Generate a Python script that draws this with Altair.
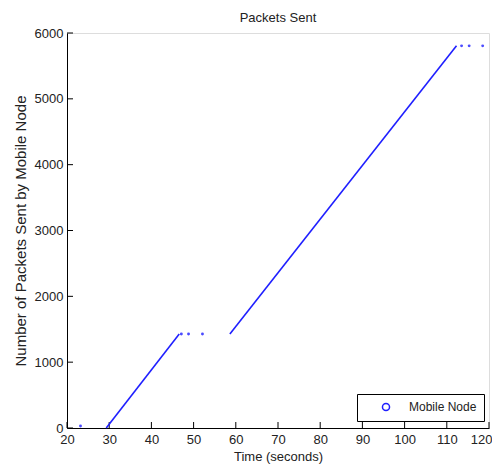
import altair as alt
import pandas as pd

# ---- data ----
seg1_time = [29.3, 46.6]
seg1_pkts = [0, 1428]
seg2_time = [58.6, 112.3]
seg2_pkts = [1428, 5805]
dot_time = [23.2, 47.1, 48.8, 52.1, 113.5, 115.3, 118.5]
dot_pkts = [30, 1428, 1428, 1428, 5805, 5805, 5805]
x_ticks = [20, 30, 40, 50, 60, 70, 80, 90, 100, 110, 120]
y_ticks = [0, 1000, 2000, 3000, 4000, 5000, 6000]
series_name = "Mobile Node"

W, H = 422, 395
BLUE = "#1f1fff"
FONT = "Liberation Sans, Arial, sans-serif"
TXT = "#222222"

line_df = pd.DataFrame({
    "time": seg1_time + seg2_time,
    "pkts": seg1_pkts + seg2_pkts,
    "seg": ["a"] * len(seg1_time) + ["b"] * len(seg2_time),
})
dot_df = pd.DataFrame({"time": dot_time, "pkts": dot_pkts, "series": [series_name] * len(dot_time)})
xt_df = pd.DataFrame({"t": x_ticks})
yt_df = pd.DataFrame({"v": y_ticks})

xscale = alt.Scale(domain=[20, 120], nice=False, zero=False)
yscale = alt.Scale(domain=[0, 6000], nice=False)

last_x = x_ticks[-1]
xaxis = alt.Axis(values=x_ticks, format="d", title="Time (seconds)", grid=False, ticks=False,
                 labelFlush=False, labelOverlap=False, labelPadding=5,
                 labelAlign={"condition": {"test": f"datum.value == {last_x}", "value": "right"},
                             "value": "center"},
                 labelOffset={"condition": {"test": f"datum.value == {last_x}", "value": 3},
                              "value": 0},
                 domainColor="#000000", domainWidth=1,
                 labelFont=FONT, labelFontSize=13, labelColor=TXT,
                 titleFont=FONT, titleFontSize=13, titleFontWeight="normal",
                 titleColor=TXT, titlePadding=4)
yaxis = alt.Axis(values=y_ticks, format="d", title="Number of Packets Sent by Mobile Node",
                 grid=False, ticks=False, labelFlush=False, labelOverlap=False,
                 labelPadding=4, domainColor="#000000", domainWidth=1,
                 labelFont=FONT, labelFontSize=13, labelColor=TXT,
                 titleFont=FONT, titleFontSize=15, titleFontWeight="normal",
                 titleColor=TXT, titlePadding=6)

lines = alt.Chart(line_df).mark_line(color=BLUE, strokeWidth=1.6).encode(
    x=alt.X("time:Q", scale=xscale, axis=xaxis),
    y=alt.Y("pkts:Q", scale=yscale, axis=yaxis),
    detail="seg:N",
)

dots = alt.Chart(dot_df).mark_point(filled=False, size=2, shape="circle", strokeWidth=1.5,
                                    opacity=0.8).encode(
    x=alt.X("time:Q", scale=xscale),
    y=alt.Y("pkts:Q", scale=yscale),
    color=alt.Color("series:N", scale=alt.Scale(range=[BLUE]),
                    legend=alt.Legend(title=None, orient="none", legendX=290, legendY=361,
                                      symbolType="circle", symbolSize=50,
                                      symbolFillColor="transparent", symbolStrokeColor=BLUE,
                                      symbolStrokeWidth=1.5, symbolOpacity=1,
                                      symbolOffset=16, labelOffset=17, labelFont=FONT,
                                      labelFontSize=12, labelColor=TXT, padding=7,
                                      strokeColor="#000000", fillColor="#ffffff")),
)

xt = alt.Chart(xt_df).mark_rule(color="#000000", strokeWidth=1).encode(
    x=alt.X("t:Q", scale=xscale), y=alt.value(H), y2=alt.value(H - 6))
yt = alt.Chart(yt_df).mark_rule(color="#000000", strokeWidth=1).encode(
    y=alt.Y("v:Q", scale=yscale), x=alt.value(0), x2=alt.value(6))

chart = alt.layer(xt, yt, lines, dots).properties(
    width=W, height=H,
    title=alt.TitleParams("Packets Sent", font=FONT, fontSize=13, fontWeight="normal",
                          color=TXT, anchor="middle", baseline="alphabetic", offset=5, dy=13),
    autosize=alt.AutoSizeParams(type="none"),
    padding={"left": 59, "top": 25, "right": 3, "bottom": 38},
).configure_view(stroke=None).configure(background="#ffffff")

chart.save("out.html", embed_options={"renderer": "svg", "actions": False})
